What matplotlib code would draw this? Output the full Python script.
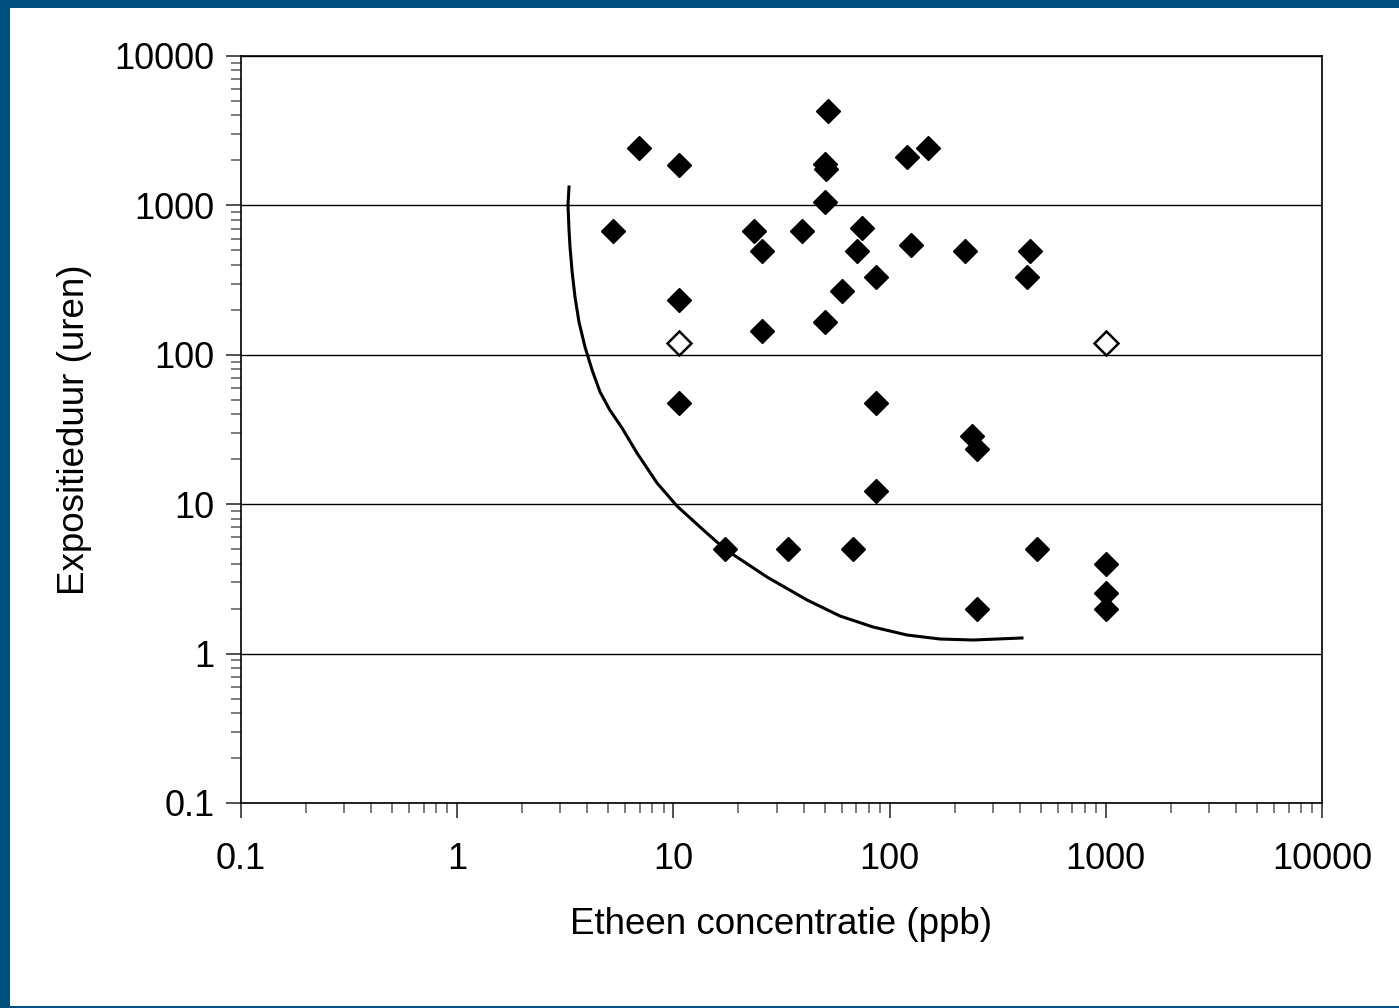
import matplotlib
matplotlib.use("Agg")
import matplotlib.pyplot as plt
from matplotlib.patches import Rectangle
from matplotlib.ticker import FixedLocator, FixedFormatter, LogLocator, NullFormatter

# measured points (filled diamonds)
conc = [5.25, 6.93, 10.6, 10.6, 10.6, 17.3, 23.6, 25.7, 25.7, 33.9, 39.3,
        51.9, 50.3, 50.8, 50.3, 50.3, 60.2, 70.7, 74.5, 67.5, 86.5, 86.5, 86.5,
        120, 150.6, 125.6, 223, 240, 254, 254, 446, 432, 481, 1000, 1000, 1000]
duur = [675, 2422, 1864, 233, 47.6, 5.0, 675, 495, 144, 5.0, 675,
        4285, 1900, 1750, 1054, 166, 267, 495, 706, 5.0, 332, 47.6, 12.3,
        2109, 2422, 543, 495, 28.6, 23.4, 2.0, 495, 332, 5.0, 4.0, 2.55, 2.0]

# open diamonds
conc_open = [10.6, 1000]
duur_open = [120, 120]

# hand drawn boundary curve
curve_x = [3.29, 3.254, 3.29, 3.325, 3.40, 3.506, 3.66, 3.90, 4.22, 4.576,
           5.08, 5.785, 6.786, 8.40, 10.39, 13.71, 17.3, 27.1, 41.5, 58.96,
           83.8, 120.3, 171.1, 243.1, 409.6]
curve_y = [1328, 1006, 685, 527, 360, 243.7, 165.5, 112.8, 78.0, 56.5,
           42.7, 32.4, 22.0, 13.87, 9.72, 6.75, 5.01, 3.256, 2.285, 1.785,
           1.507, 1.332, 1.252, 1.233, 1.272]

ticks = [0.1, 1, 10, 100, 1000, 10000]
tick_labels = ["0.1", "1", "10", "100", "1000", "10000"]

plt.rcParams['font.family'] = ['Liberation Sans', 'DejaVu Sans']

fig = plt.figure(figsize=(13.99, 10.08), dpi=100)
fig.patch.set_facecolor("#00507F")
fig.patches.append(Rectangle((10 / 1399, 2 / 1008), 1 - 10 / 1399, 1 - 10 / 1008,
                             transform=fig.transFigure, facecolor="white",
                             edgecolor="none", zorder=-10))

ax = fig.add_axes([241 / 1399, 1 - 803 / 1008, 1081 / 1399, 747 / 1008])
ax.set_zorder(1)
ax.set_xscale("log")
ax.set_yscale("log")
ax.set_xlim(0.1, 10000)
ax.set_ylim(0.1, 10000)

ax.yaxis.grid(True, which="major", color="black", linewidth=1.0)
ax.set_axisbelow(True)

ax.plot(curve_x, curve_y, color="black", linewidth=2.2, zorder=2,
        solid_joinstyle="round")
ax.plot(conc, duur, linestyle="none", marker="D", markersize=12.5,
        markerfacecolor="black", markeredgecolor="black", zorder=3)
ax.plot(conc_open, duur_open, linestyle="none", marker="D", markersize=12,
        markerfacecolor="white", markeredgecolor="black", markeredgewidth=1.8, zorder=3)

for axis in (ax.xaxis, ax.yaxis):
    axis.set_major_locator(FixedLocator(ticks))
    axis.set_major_formatter(FixedFormatter(tick_labels))
    axis.set_minor_locator(LogLocator(base=10, subs=range(2, 10), numticks=20))
    axis.set_minor_formatter(NullFormatter())

ax.tick_params(axis="both", which="major", direction="out", length=11, width=1.2,
               color="#333333", labelsize=26)
ax.tick_params(axis="both", which="minor", direction="out", length=7, width=1.2,
               color="#666666")
ax.tick_params(axis="y", which="major", pad=8)
ax.tick_params(axis="x", which="major", pad=17)

for s in ax.spines.values():
    s.set_color("black")
    s.set_linewidth(1.2)

ax.set_xlabel("Etheen concentratie (ppb)", fontsize=26.5, labelpad=22)
ax.set_ylabel("Expositieduur (uren)", fontsize=26.5, labelpad=16)

fig.savefig("out.png", dpi=100, facecolor=fig.get_facecolor())
